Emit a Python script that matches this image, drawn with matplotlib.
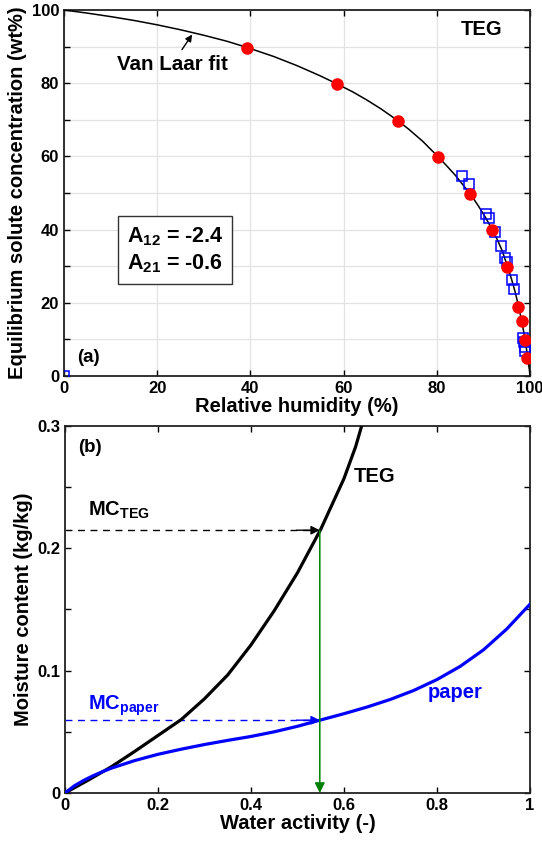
import numpy as np
import matplotlib
matplotlib.use("Agg")
import matplotlib.pyplot as plt

plt.rcParams['font.family'] = ['Liberation Sans', 'DejaVu Sans']
plt.rcParams['font.weight'] = 'bold'
plt.rcParams['mathtext.fontset'] = 'custom'
plt.rcParams['mathtext.rm'] = 'Liberation Sans:bold'
plt.rcParams['mathtext.it'] = 'Liberation Sans:bold'
plt.rcParams['mathtext.bf'] = 'Liberation Sans:bold'

# ---- panel (a): TEG equilibrium data ----
rh_exp1 = [39.2, 58.6, 71.6, 80.2, 87.1, 91.9, 95.1, 97.4, 98.2, 98.9, 99.3]
conc_exp1 = [89.7, 79.8, 69.8, 59.9, 49.8, 40.0, 29.9, 18.8, 14.9, 9.8, 4.8]

rh_exp2 = [85.3, 86.8, 90.6, 91.1, 92.5, 93.7, 94.6, 95.0, 96.2, 96.6,
           98.6, 98.7, 98.9, 99.0, 0.0]
conc_exp2 = [54.7, 52.5, 44.2, 43.3, 39.4, 35.6, 32.2, 31.2, 26.2, 23.8,
             10.3, 9.4, 8.0, 6.7, 0.0]

# Van Laar fit line
rh_fit = [0, 5, 10, 15, 20, 25, 30, 35, 39.2, 45, 50, 55, 58.6, 62, 65, 68,
          71.6, 74, 77, 80.2, 82, 84, 86, 87.6, 89, 90.5, 91.9, 93, 94, 95.1,
          96, 96.8, 97.4, 98, 98.5, 98.9, 99.3, 99.6, 99.85, 100]
conc_fit = [100, 99.15, 98.2, 97.15, 95.95, 94.6, 93.1, 91.45, 89.8, 87.3,
            84.8, 82.0, 79.8, 77.6, 75.4, 73.0, 69.8, 67.4, 64.1, 60.0, 57.6,
            54.8, 51.6, 49.0, 46.3, 43.2, 40.0, 37.2, 34.3, 30.2, 26.6, 23.0,
            19.8, 16.3, 13.1, 10.2, 6.9, 4.0, 1.8, 0]

# ---- panel (b): sorption isotherms ----
aw_teg = [0, 0.05, 0.1, 0.15, 0.2, 0.25, 0.3, 0.35, 0.4, 0.45, 0.5, 0.55,
          0.6, 0.625, 0.638]
mc_teg = [0, 0.0105, 0.0215, 0.034, 0.047, 0.060, 0.0770, 0.0965, 0.121,
          0.149, 0.180, 0.2155, 0.257, 0.283, 0.300]

aw_paper = [0, 0.02, 0.04, 0.06, 0.08, 0.1, 0.15, 0.2, 0.25, 0.3, 0.35, 0.4,
            0.45, 0.5, 0.55, 0.6, 0.65, 0.7, 0.75, 0.8, 0.85, 0.9, 0.95, 1.0]
mc_paper = [0, 0.0058, 0.0102, 0.0140, 0.0173, 0.0203, 0.0265, 0.0316,
            0.0358, 0.0396, 0.0430, 0.0462, 0.0500, 0.0545, 0.0597, 0.0648,
            0.0703, 0.0765, 0.0838, 0.0927, 0.1035, 0.1170, 0.1340, 0.1543]

aw_pick = 0.548
mc_teg_pick = 0.2148
mc_paper_pick = 0.0595

fig = plt.figure(figsize=(5.42, 8.41), dpi=100)

# ------------------------------------------------------------------ (a)
ax1 = fig.add_axes([0.1181, 0.5529, 0.8598, 0.4352])
ax1.plot(rh_fit, conc_fit, color='k', lw=1.1, zorder=3)
ax1.plot(rh_exp2, conc_exp2, 's', mfc='none', mec='#0000ff', mew=1.1, ms=7, zorder=4)
ax1.plot(rh_exp1, conc_exp1, 'o', color='#ff0000', mec='#ff0000', ms=8, zorder=5)
ax1.set_xlim(0, 100)
ax1.set_ylim(0, 100)
ax1.set_xticks(np.arange(0, 101, 20))
ax1.set_yticks(np.arange(0, 101, 20))
ax1.set_yticks(np.arange(0, 101, 10), minor=True)
ax1.grid(True, which='major', axis='x', color='#e3e3e3', lw=0.9)
ax1.grid(True, which='both', axis='y', color='#e3e3e3', lw=0.9)
ax1.set_axisbelow(True)
ax1.tick_params(which='both', direction='in', top=True, right=True, labelsize=12, length=4, width=1)
ax1.set_xlabel('Relative humidity (%)', fontsize=14.5, fontweight='bold', labelpad=1)
ax1.set_ylabel('Equilibrium solute concentration (wt%)', fontsize=14.5, fontweight='bold', labelpad=3)
for s in ax1.spines.values():
    s.set_linewidth(1.3)
    s.set_color('#222222')

ax1.text(89.6, 94.7, 'TEG', fontsize=14.5, fontweight='bold', ha='center', va='center')
ax1.text(2.8, 5.0, '(a)', fontsize=13.5, fontweight='bold', ha='left', va='center')
ax1.annotate('Van Laar fit', xy=(27.5, 93.3), xytext=(23.2, 85.2), fontsize=14.8,
             fontweight='bold', ha='center', va='center',
             arrowprops=dict(arrowstyle='-|>', color='k', lw=1, mutation_scale=10,
                             shrinkA=2, shrinkB=0))
ax1.text(23.8, 34.4, 'A$_{12}$ = -2.4\nA$_{21}$ = -0.6', fontsize=15.5, fontweight='bold',
         ha='center', va='center', linespacing=1.3,
         bbox=dict(boxstyle='square,pad=0.4', fc='white', ec='#333333', lw=1))

# ------------------------------------------------------------------ (b)
ax2 = fig.add_axes([0.1199, 0.0571, 0.8579, 0.4364])
ax2.plot(aw_teg, mc_teg, color='k', lw=2.3, zorder=3)
ax2.plot(aw_paper, mc_paper, color='#0000ff', lw=2.3, zorder=3)

ax2.plot([0, aw_pick - 0.02], [mc_teg_pick, mc_teg_pick], color='k', lw=1, ls=(0, (5, 4)))
ax2.annotate('', xy=(aw_pick, mc_teg_pick), xytext=(aw_pick - 0.05, mc_teg_pick),
             arrowprops=dict(arrowstyle='-|>', color='k', lw=1, mutation_scale=13,
                             shrinkA=0, shrinkB=0))
ax2.plot([0, aw_pick - 0.02], [mc_paper_pick, mc_paper_pick], color='#0000ff', lw=1, ls=(0, (5, 4)))
ax2.annotate('', xy=(aw_pick, mc_paper_pick), xytext=(aw_pick - 0.05, mc_paper_pick),
             arrowprops=dict(arrowstyle='-|>', color='#0000ff', lw=1, mutation_scale=13,
                             shrinkA=0, shrinkB=0))
ax2.annotate('', xy=(aw_pick, 0.0), xytext=(aw_pick, mc_teg_pick),
             arrowprops=dict(arrowstyle='-|>', color='#008000', lw=1.1, mutation_scale=15,
                             shrinkA=0, shrinkB=0))

ax2.set_xlim(0, 1)
ax2.set_ylim(0, 0.3)
ax2.set_xticks(np.arange(0, 1.01, 0.2))
ax2.set_xticklabels(['0', '0.2', '0.4', '0.6', '0.8', '1'])
ax2.set_yticks([0, 0.1, 0.2, 0.3])
ax2.set_yticklabels(['0', '0.1', '0.2', '0.3'])
ax2.set_yticks(np.arange(0, 0.301, 0.05), minor=True)
ax2.tick_params(which='both', direction='in', top=True, right=True, labelsize=12, length=4, width=1)
ax2.set_xlabel('Water activity (-)', fontsize=14.5, fontweight='bold', labelpad=1)
ax2.set_ylabel('Moisture content (kg/kg)', fontsize=14.5, fontweight='bold', labelpad=3)
for s in ax2.spines.values():
    s.set_linewidth(1.3)
    s.set_color('#222222')

ax2.text(0.028, 0.282, '(b)', fontsize=13.5, fontweight='bold', ha='left', va='center')
ax2.text(0.05, 0.222, 'MC$_{TEG}$', fontsize=14.5, fontweight='bold', ha='left', va='bottom')
ax2.text(0.05, 0.0615, 'MC$_{paper}$', fontsize=14.5, fontweight='bold', color='#0000ff',
         ha='left', va='bottom')
ax2.text(0.62, 0.259, 'TEG', fontsize=14.5, fontweight='bold', ha='left', va='center')
ax2.text(0.781, 0.082, 'paper', fontsize=14.5, fontweight='bold', color='#0000ff',
         ha='left', va='center')

fig.savefig('out.png', dpi=100)
